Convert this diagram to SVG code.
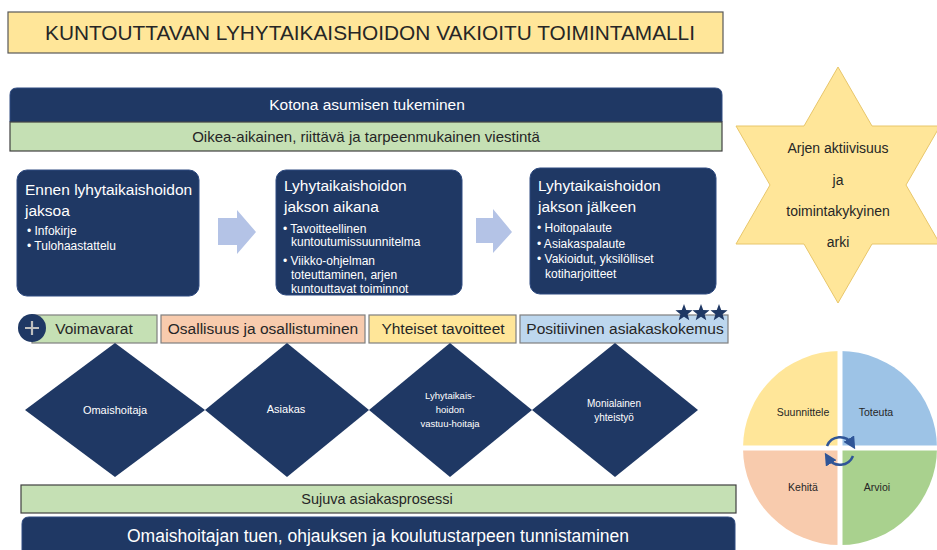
<svg xmlns="http://www.w3.org/2000/svg" width="937" height="550" viewBox="0 0 937 550">
<style>
text{font-family:"Liberation Sans",Arial,sans-serif}
.navy{fill:#1F3864;stroke:#2E4A80;stroke-width:1}
.wt{fill:#ffffff}
.dk{fill:#262626}
.c{text-anchor:middle}
.band{stroke:#404040;stroke-width:1.2}
.lbl{stroke:#7f7f7f;stroke-width:1.2}
.ttl{font-size:15.5px}
.bul{font-size:12px}
.dia{font-size:11px}
.pie{font-size:10.5px}
.blk{fill:#B4C3E6}
</style>
<defs>
<polygon id="star5" points="0,-9 2.23,-3.07 8.56,-2.78 3.61,1.17 5.29,7.28 0,3.8 -5.29,7.28 -3.61,1.17 -8.56,-2.78 -2.23,-3.07" fill="#1F3864"/>
<marker id="ah" viewBox="0 0 10 10" refX="5" refY="5" markerWidth="5" markerHeight="5" orient="auto">
<path d="M0,0 L10,5 L0,10 Z" fill="#2F5597"/>
</marker>
</defs>

<g id="title">
<rect x="8" y="12" width="715" height="41" fill="#FFE699" stroke="#595959" stroke-width="1.2"/>
<text x="370" y="40" class="c dk" font-size="21" textLength="650" lengthAdjust="spacingAndGlyphs">KUNTOUTTAVAN LYHYTAIKAISHOIDON VAKIOITU TOIMINTAMALLI</text>
</g>

<g id="kotona">
<path class="navy" d="M10,122 V95 Q10,88 17,88 H715 Q722,88 722,95 V122 Z"/>
<text x="367" y="110" class="c wt" font-size="15.5">Kotona asumisen tukeminen</text>
</g>

<g id="viestinta">
<rect class="band" x="10" y="122" width="712" height="29" fill="#C5E0B4"/>
<text x="366" y="142" class="c dk" font-size="15">Oikea-aikainen, riittävä ja tarpeenmukainen viestintä</text>
</g>

<g id="box-ennen">
<rect class="navy" x="17" y="170" width="182" height="126" rx="10"/>
<text x="25" y="195" class="wt ttl">Ennen lyhytaikaishoidon</text>
<text x="25" y="216" class="wt ttl">jaksoa</text>
<text x="27" y="235" class="wt bul">• Infokirje</text>
<text x="27" y="250" class="wt bul">• Tulohaastattelu</text>
</g>

<g id="box-aikana">
<rect class="navy" x="276" y="170" width="186" height="125" rx="10"/>
<text x="284" y="191" class="wt ttl">Lyhytaikaishoidon</text>
<text x="284" y="212" class="wt ttl">jakson aikana</text>
<text x="283" y="233" class="wt bul">• Tavoitteellinen</text>
<text x="291" y="246" class="wt bul">kuntoutumissuunnitelma</text>
<text x="283" y="265" class="wt bul">• Viikko-ohjelman</text>
<text x="291" y="279" class="wt bul">toteuttaminen, arjen</text>
<text x="291" y="293" class="wt bul">kuntouttavat toiminnot</text>
</g>

<g id="box-jalkeen">
<rect class="navy" x="530" y="168" width="186" height="126" rx="10"/>
<text x="538" y="191" class="wt ttl">Lyhytaikaishoidon</text>
<text x="538" y="212" class="wt ttl">jakson jälkeen</text>
<text x="537" y="232" class="wt bul">• Hoitopalaute</text>
<text x="537" y="248" class="wt bul">• Asiakaspalaute</text>
<text x="537" y="263" class="wt bul">• Vakioidut, yksilölliset</text>
<text x="545" y="278" class="wt bul">kotiharjoitteet</text>
</g>

<g id="connectors">
<polygon class="blk" points="218,218 237,218 237,210 256,232 237,254 237,245 218,245"/>
<polygon class="blk" points="476,218 493,218 493,209 512,232 493,253 493,243 476,243"/>
</g>

<g id="star-arki">
<polygon points="838,67 872,126 940,126 906,185 940,244 872,244 838,303 804,244 736,244 770,185 736,126 804,126" fill="#FFE699" stroke="#E8C66A" stroke-width="1"/>
<text x="838" y="153" class="c dk" font-size="14">Arjen aktiivisuus</text>
<text x="838" y="185" class="c dk" font-size="14">ja</text>
<text x="838" y="216" class="c dk" font-size="14">toimintakykyinen</text>
<text x="838" y="247" class="c dk" font-size="14">arki</text>
</g>

<g id="voimavarat">
<rect class="lbl" x="32" y="315" width="125" height="28" fill="#C5E0B4"/>
<circle cx="32" cy="328" r="14" fill="#1F3864"/>
<path d="M25,328 H39 M32,321 V335" stroke="#BFBFBF" stroke-width="2.2"/>
<text x="94" y="334" class="c dk" font-size="15.5">Voimavarat</text>
</g>

<g id="osallisuus">
<rect class="lbl" x="161" y="315" width="204" height="28" fill="#F8CBAD"/>
<text x="263" y="334" class="c dk" font-size="15.5">Osallisuus ja osallistuminen</text>
</g>

<g id="tavoitteet">
<rect class="lbl" x="369" y="315" width="147" height="28" fill="#FFE699"/>
<text x="443" y="334" class="c dk" font-size="15.5">Yhteiset tavoitteet</text>
</g>

<g id="asiakaskokemus">
<rect class="lbl" x="520" y="315" width="208" height="28" fill="#BDD7EE"/>
<text x="625" y="334" class="c dk" font-size="15.5">Positiivinen asiakaskokemus</text>
<use href="#star5" x="684" y="313"/>
<use href="#star5" x="701" y="313"/>
<use href="#star5" x="719" y="313"/>
</g>

<g id="d-omaishoitaja">
<polygon points="115,343 205,410 115,477 25,410" fill="#1F3864"/>
<text x="115" y="414" class="c wt dia">Omaishoitaja</text>
</g>

<g id="d-asiakas">
<polygon points="287,343 369,410 287,477 205,410" fill="#1F3864"/>
<text x="286" y="413" class="c wt dia">Asiakas</text>
</g>

<g id="d-vastuuhoitaja">
<polygon points="450,343 532,410 450,477 369,410" fill="#1F3864"/>
<text x="450" y="399" class="c wt" font-size="9.5">Lyhytaikais-</text>
<text x="450" y="413" class="c wt" font-size="9.5">hoidon</text>
<text x="450" y="427" class="c wt" font-size="9.5">vastuu-hoitaja</text>
</g>

<g id="d-monialainen">
<polygon points="615,343 698,410 615,477 532,410" fill="#1F3864"/>
<text x="614" y="407" class="c wt" font-size="10">Monialainen</text>
<text x="614" y="421" class="c wt" font-size="10">yhteistyö</text>
</g>

<g id="sujuva">
<rect class="band" x="21" y="485" width="715" height="28" fill="#C5E0B4"/>
<text x="377" y="504" class="c dk" font-size="14.5">Sujuva asiakasprosessi</text>
</g>

<g id="omaishoitajan-tuki">
<path class="navy" d="M22,552 V524 Q22,517 29,517 H728 Q735,517 735,524 V552 Z"/>
<text x="378" y="542" class="c wt" font-size="17.5">Omaishoitajan tuen, ohjauksen ja koulutustarpeen tunnistaminen</text>
</g>

<g id="pdca">
<path d="M840,448 L743,448 A97,97 0 0 1 840,351 Z" fill="#FFE699"/>
<path d="M840,448 L840,351 A97,97 0 0 1 937,448 Z" fill="#9DC3E6"/>
<path d="M840,448 L937,448 A97,97 0 0 1 840,545 Z" fill="#A9D18E"/>
<path d="M840,448 L840,545 A97,97 0 0 1 743,448 Z" fill="#F8CBAD"/>
<path d="M840,345 V550 M738,448 H940" stroke="#ffffff" stroke-width="5"/>
<text x="803" y="416" class="c dk pie">Suunnittele</text>
<text x="876" y="416" class="c dk pie">Toteuta</text>
<text x="803" y="491" class="c dk pie">Kehitä</text>
<text x="877" y="491" class="c dk pie">Arvioi</text>
<path d="M827,446 A14,14 0 0 1 852,444" fill="none" stroke="#2F5597" stroke-width="2.5" marker-end="url(#ah)"/>
<path d="M853,456 A14,14 0 0 1 828,458" fill="none" stroke="#2F5597" stroke-width="2.5" marker-end="url(#ah)"/>
</g>
</svg>
